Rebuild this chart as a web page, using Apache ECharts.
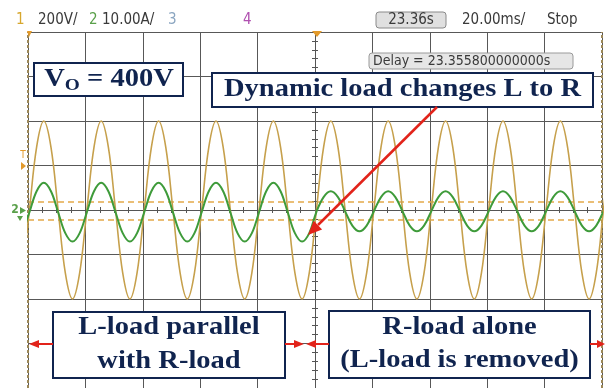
<!DOCTYPE html>
<html><head><meta charset="utf-8">
<script src="https://cdn.jsdelivr.net/npm/echarts@6/dist/echarts.min.js"></script>
<style>html,body{margin:0;padding:0;background:#fff}#c{width:608px;height:388px}</style>
</head><body><div id="c"></div>
<script>
// time relative to trigger (ms), 20 ms/div, 10 divisions
const timeMs = [
  -102,-99.5,-97,-94.5,-92,-89.5,-87,-84.5,
  -82,-79.5,-77,-74.5,-72,-69.5,-67,-64.5,
  -62,-59.5,-57,-54.5,-52,-49.5,-47,-44.5,
  -42,-39.5,-37,-34.5,-32,-29.5,-27,-24.5,
  -22,-19.5,-17,-14.5,-12,-9.5,-7,-4.5,
  -2,0.5,3,5.5,8,10.5,13,15.5,
  18,20.5,23,25.5,28,30.5,33,35.5,
  38,40.5,43,45.5,48,50.5,53,55.5,
  58,60.5,63,65.5,68,70.5,73,75.5,
  78,80.5,83,85.5,88,90.5,93,95.5,
  98,100.5,103
];
// Channel 1: output voltage (V), 200 V/div
const ch1Volts = [
  -283,0,283,400,283,0,-283,-400,
  -283,0,283,400,283,0,-283,-400,
  -283,0,283,400,283,0,-283,-400,
  -283,0,283,400,283,0,-283,-400,
  -283,0,283,400,283,0,-283,-400,
  -283,0,283,400,283,0,-283,-400,
  -283,0,283,400,283,0,-283,-400,
  -283,0,283,400,283,0,-283,-400,
  -283,0,283,400,283,0,-283,-400,
  -283,0,283,400,283,0,-283,-400,
  -283,0,283
];
// Channel 2: load current (A), 10 A/div
const ch2Amps = [
  -5.2,-0.5,4.2,6.1,4.2,-0.5,-5.2,-7.1,
  -5.2,-0.5,4.2,6.1,4.2,-0.5,-5.2,-7.1,
  -5.2,-0.5,4.2,6.1,4.2,-0.5,-5.2,-7.1,
  -5.2,-0.5,4.2,6.1,4.2,-0.5,-5.2,-7.1,
  -5.2,-0.5,4.2,6.1,4.2,-0.5,-5.2,-7.1,
  -5.2,-0.4,2.9,4.2,2.9,-0.3,-3.5,-4.8,
  -3.5,-0.3,2.9,4.2,2.9,-0.3,-3.5,-4.8,
  -3.5,-0.3,2.9,4.2,2.9,-0.3,-3.5,-4.8,
  -3.5,-0.3,2.9,4.2,2.9,-0.3,-3.5,-4.8,
  -3.5,-0.3,2.9,4.2,2.9,-0.3,-3.5,-4.8,
  -3.5,-0.3,2.9
];
const cursorLevelsV = [38, -44];
const screenEdgesMs = [-100, 100];
const headerItems = [
  {t:'1', x:16, c:'#d7a72e'},
  {t:'200V/', x:38, c:'#3a3a3a'},
  {t:'2', x:89, c:'#5aa04a'},
  {t:'10.00A/', x:102, c:'#3a3a3a'},
  {t:'3', x:168, c:'#8aa5c0'},
  {t:'4', x:243, c:'#b050b0'},
  {t:'20.00ms/', x:462, c:'#3a3a3a'},
  {t:'Stop', x:547, c:'#3a3a3a'}
];
const timeBoxText = '23.36s';
const delayText = 'Delay = 23.355800000000s';

const chart = echarts.init(document.getElementById('c'), null, {renderer:'canvas'});
const gridColor = '#585858';
const narrow = '"Liberation Sans Narrow","DejaVu Sans Condensed",sans-serif';
const serif = '"Liberation Serif","DejaVu Serif",serif';
const navy = '#10244f';
const red = '#e2231a';

function txt(x, y, text, font, fill, align, extra) {
  return Object.assign({type:'text', x:x, y:y, z:50,
    style:{text:text, font:font, fill:fill, align:align||'left', textAlign:align||'left',
      verticalAlign:'middle', textVerticalAlign:'middle'}}, extra||{});
}
function box(x, y, w, h) {
  return {type:'rect', z:40, shape:{x:x, y:y, width:w, height:h},
    style:{fill:'#fff', stroke:navy, lineWidth:2}};
}
function poly(points, fill) {
  return {type:'polygon', z:45, shape:{points:points}, style:{fill:fill}};
}
function seg(x1,y1,x2,y2,color,w) {
  return {type:'line', z:45, shape:{x1:x1,y1:y1,x2:x2,y2:y2}, style:{stroke:color, lineWidth:w}};
}
const annFont = 'bold 25px ' + serif;
const sx = 1.14;

const graphics = [];
headerItems.forEach(h => graphics.push(txt(h.x, 20, h.t, '15px ' + narrow, h.c)));
graphics.push({type:'rect', z:40, shape:{x:376, y:12, width:70, height:16, r:3},
  style:{fill:'#e0e0e0', stroke:'#8a8a8a', lineWidth:1}});
graphics.push(txt(411, 20, timeBoxText, '15px ' + narrow, '#3a3a3a', 'center'));
graphics.push({type:'rect', z:40, shape:{x:369, y:53, width:204, height:16, r:3},
  style:{fill:'#e6e6e6', stroke:'#9a9a9a', lineWidth:1}});
graphics.push(txt(373, 61, delayText, '14px ' + narrow, '#3a3a3a'));
// markers
graphics.push(poly([[312,31],[322,31],[317,37]], '#e39a2a'));
graphics.push(poly([[27,31],[32,31],[29,37]], '#e39a2a'));
graphics.push(txt(23, 155, 'T', '10px ' + narrow, '#e39a2a', 'center'));
graphics.push(poly([[21,162],[26,166],[21,170]], '#e39a2a'));
graphics.push(txt(15, 210, '2', 'bold 12px ' + narrow, '#5aa04a', 'center'));
graphics.push(poly([[20,207],[26,210.5],[20,214]], '#5aa04a'));
graphics.push(poly([[17,216],[23,216],[20,221]], '#5aa04a'));
// annotation boxes
graphics.push(box(34, 63, 149, 33));
graphics.push({type:'text', x:109, y:80, z:50, scaleX:sx,
  style:{text:'{a|V}{b|O}{a| = 400V}', align:'center', textAlign:'center', verticalAlign:'middle', textVerticalAlign:'middle',
    rich:{a:{font:annFont, fill:navy, color:navy}, b:{font:'bold 17px ' + serif, fill:navy, color:navy, padding:[12,0,0,0]}}}});
graphics.push(box(212, 73, 381, 34));
graphics.push(txt(402.5, 90, 'Dynamic load changes L to R', annFont, navy, 'center', {scaleX:sx}));
graphics.push(box(53, 312, 232, 66));
graphics.push(txt(169, 328, 'L-load parallel', annFont, navy, 'center', {scaleX:sx}));
graphics.push(txt(169, 362, 'with R-load', annFont, navy, 'center', {scaleX:sx}));
graphics.push(box(329, 311, 261, 67));
graphics.push(txt(459.5, 328, 'R-load alone', annFont, navy, 'center', {scaleX:sx}));
graphics.push(txt(459.5, 361, '(L-load is removed)', annFont, navy, 'center', {scaleX:sx}));
// red arrows
graphics.push(seg(53,344,36,344,red,2));
graphics.push(poly([[29,344],[39,340],[39,348]], red));
graphics.push(seg(285,344,296,344,red,2));
graphics.push(poly([[304,344],[294,340],[294,348]], red));
graphics.push(seg(329,344,314,344,red,2));
graphics.push(poly([[306,344],[316,340],[316,348]], red));
graphics.push(seg(590,344,597,344,red,2));
graphics.push(poly([[605,344],[597,340],[597,348]], red));
graphics.push(seg(437,107,318,225,red,2.5));
graphics.push(poly([[308,235],[322.1,229.4],[313.7,220.8]], red));

const centerAxisCommon = {
  axisLabel:{show:false},
  axisTick:{show:true, length:3, lineStyle:{color:'#555'}},
  minorTick:{show:true, length:3, lineStyle:{color:'#555'}}
};

chart.setOption({
  animation:false,
  backgroundColor:'#fff',
  grid:{left:28, top:32, width:574, height:357},
  xAxis:[
    Object.assign({type:'value', min:-100, max:100, interval:20, position:'bottom',
      axisLine:{show:true, onZero:true, onZeroAxisIndex:0, lineStyle:{color:'#555', width:1}},
      splitLine:{show:true, lineStyle:{color:gridColor, width:1}}}, centerAxisCommon,
      {minorTick:{show:true, splitNumber:4, length:3, lineStyle:{color:'#555'}}}),
    Object.assign({type:'value', min:-100, max:100, interval:20, position:'top',
      axisLine:{show:true, onZero:true, onZeroAxisIndex:0, lineStyle:{color:'#555', width:1}},
      splitLine:{show:false}}, centerAxisCommon,
      {minorTick:{show:true, splitNumber:4, length:3, lineStyle:{color:'#555'}}})
  ],
  yAxis:[
    Object.assign({type:'value', min:-800, max:800, interval:200, position:'left',
      axisLine:{show:true, onZero:true, onZeroAxisIndex:0, lineStyle:{color:'#555', width:1}},
      splitLine:{show:true, lineStyle:{color:gridColor, width:1}}}, centerAxisCommon,
      {minorTick:{show:true, splitNumber:5, length:3, lineStyle:{color:'#555'}}}),
    Object.assign({type:'value', min:-40, max:40, interval:10, position:'right',
      axisLine:{show:true, onZero:true, onZeroAxisIndex:0, lineStyle:{color:'#555', width:1}},
      splitLine:{show:false}}, centerAxisCommon,
      {minorTick:{show:true, splitNumber:5, length:3, lineStyle:{color:'#555'}}})
  ],
  series:[
    {type:'line', name:'Vo', xAxisIndex:0, yAxisIndex:0, z:3,
      data:timeMs.map((t,i)=>[t, ch1Volts[i]]),
      smooth:0.37, symbol:'none', lineStyle:{color:'#c6a04c', width:1.6},
      markLine:{silent:true, symbol:'none', label:{show:false}, z:2,
        data:[
          ...cursorLevelsV.map(v=>({yAxis:v, lineStyle:{color:'#e3a94a', type:[6,4], width:1.5}})),
          ...screenEdgesMs.map(v=>({xAxis:v, lineStyle:{color:'#9b8758', type:[3,2], width:2}}))
        ]}},
    {type:'line', name:'Io', xAxisIndex:0, yAxisIndex:1, z:4,
      data:timeMs.map((t,i)=>[t, ch2Amps[i]]),
      smooth:0.37, symbol:'none', lineStyle:{color:'#3e9b3a', width:2}}
  ],
  graphic:graphics
});
</script></body></html>
